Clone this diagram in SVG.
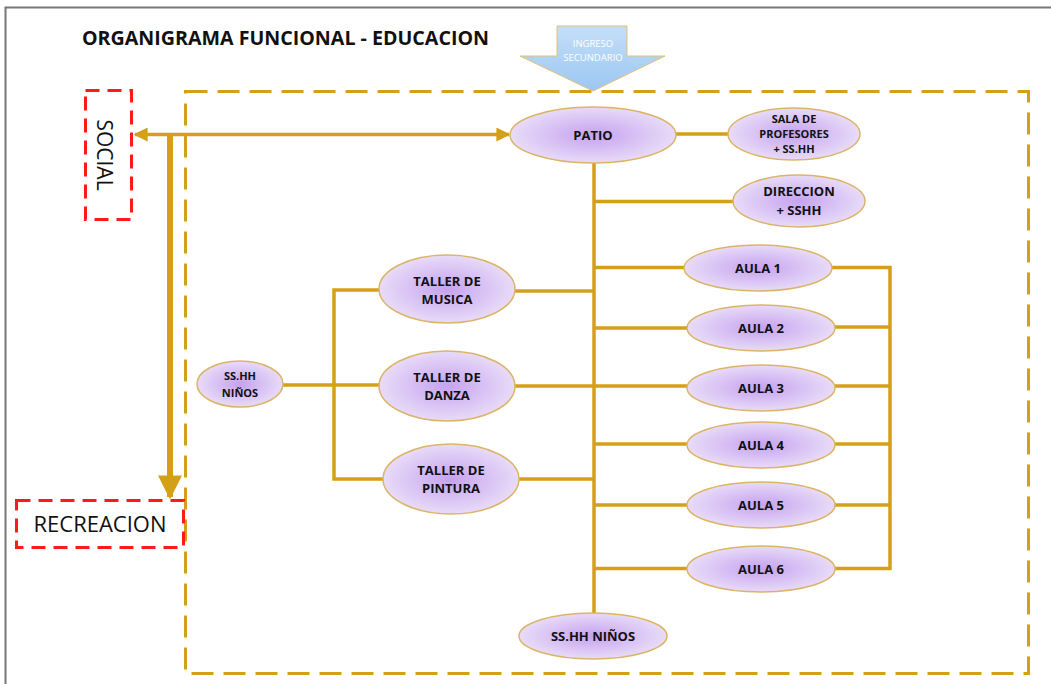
<svg xmlns="http://www.w3.org/2000/svg" width="1051" height="684" viewBox="0 0 1051 684">
<defs>
<radialGradient id="ng" cx="50%" cy="50%" r="55%">
<stop offset="0" stop-color="#c5a2ef"/>
<stop offset="1" stop-color="#ece1f9"/>
</radialGradient>
<linearGradient id="ag" x1="0" y1="0" x2="0" y2="1">
<stop offset="0" stop-color="#c4def8"/>
<stop offset="1" stop-color="#9cc7f2"/>
</linearGradient>
<marker id="ah" viewBox="0 0 10 10" refX="9" refY="5" markerWidth="4" markerHeight="4" orient="auto-start-reverse" markerUnits="strokeWidth">
<path d="M0,0 L10,5 L0,10 Z" fill="#d4a017"/>
</marker>
<marker id="ahb" viewBox="0 0 10 10" refX="9" refY="5" markerWidth="4" markerHeight="4" orient="auto" markerUnits="strokeWidth">
<path d="M0,0 L10,5 L0,10 Z" fill="#d4a017"/>
</marker>
</defs>
<style>
.n{fill:url(#ng);stroke:#dcb468;stroke-width:1.5}
.t{font-family:"Open Sans","Liberation Sans",sans-serif;font-weight:bold;fill:#111;text-anchor:middle}
.c{stroke:#d4a017;stroke-width:3.5;fill:none}
.red{fill:none;stroke:#ff1a1a;stroke-width:3;stroke-dasharray:14 8}
.gold{fill:none;stroke:#d4a017;stroke-width:3;stroke-dasharray:22 10}
</style>
<rect width="1051" height="684" fill="#fff"/>
<path d="M5.5,684 V7.5 H1051" fill="none" stroke="#777" stroke-width="2"/>
<text x="82" y="45" font-family="Open Sans,Liberation Sans,sans-serif" font-weight="bold" font-size="19.6" textLength="407" lengthAdjust="spacingAndGlyphs" fill="#111">ORGANIGRAMA FUNCIONAL - EDUCACION</text>
<rect class="gold" x="185.5" y="91.5" width="843" height="582"/>
<g id="ingreso">
<path d="M557,26 H627 V56 H665 L593,91 L520,56 H557 Z" fill="url(#ag)" stroke="#e6c070" stroke-width="1"/>
<text x="593" y="47" font-family="Open Sans,Liberation Sans,sans-serif" font-size="9.5" fill="#fff" text-anchor="middle">INGRESO</text>
<text x="593" y="61" font-family="Open Sans,Liberation Sans,sans-serif" font-size="9.5" fill="#fff" text-anchor="middle">SECUNDARIO</text>
</g>
<g id="social">
<rect class="red" x="85.5" y="90.5" width="46" height="129"/>
<text transform="translate(97,155) rotate(90)" font-family="Open Sans,Liberation Sans,sans-serif" font-size="21" fill="#111" text-anchor="middle">SOCIAL</text>
</g>
<g id="recreacion">
<rect class="red" x="16.5" y="500.5" width="167" height="47"/>
<text x="100" y="532" font-family="Open Sans,Liberation Sans,sans-serif" font-size="21" textLength="133" lengthAdjust="spacingAndGlyphs" fill="#111" text-anchor="middle">RECREACION</text>
</g>
<g id="connectors">
<line x1="135" y1="134.5" x2="509" y2="134.5" stroke="#d4a017" stroke-width="3.5" marker-start="url(#ah)" marker-end="url(#ah)"/>
<line x1="170" y1="136" x2="170" y2="497" stroke="#d4a017" stroke-width="6" marker-end="url(#ahb)"/>
<line class="c" x1="676" y1="134" x2="729" y2="134"/>
<line class="c" x1="594" y1="163" x2="594" y2="613"/>
<line class="c" x1="594" y1="201.5" x2="734" y2="201.5"/>
<line class="c" x1="594" y1="267.5" x2="685" y2="267.5"/>
<line class="c" x1="594" y1="328" x2="688" y2="328"/>
<line class="c" x1="594" y1="386" x2="688" y2="386"/>
<line class="c" x1="594" y1="444" x2="688" y2="444"/>
<line class="c" x1="594" y1="505" x2="688" y2="505"/>
<line class="c" x1="594" y1="568.5" x2="688" y2="568.5"/>
<path class="c" d="M832,267.5 H890 V568.5 H835"/>
<line class="c" x1="835" y1="327" x2="890" y2="327"/>
<line class="c" x1="835" y1="386" x2="890" y2="386"/>
<line class="c" x1="835" y1="444" x2="890" y2="444"/>
<line class="c" x1="835" y1="505" x2="890" y2="505"/>
<line class="c" x1="515" y1="291" x2="594" y2="291"/>
<line class="c" x1="515" y1="386" x2="594" y2="386"/>
<line class="c" x1="519" y1="479" x2="594" y2="479"/>
<path class="c" d="M381,290 H334 V479 H384"/>
<line class="c" x1="283" y1="385" x2="380" y2="385"/>
</g>
<g id="patio"><ellipse class="n" cx="593" cy="135" rx="83" ry="28"/><text class="t" x="593" y="140" font-size="13">PATIO</text></g>
<g id="sala"><ellipse class="n" cx="794" cy="134" rx="66" ry="26"/><text class="t" x="794" y="123" font-size="11">SALA DE</text><text class="t" x="794" y="138" font-size="11">PROFESORES</text><text class="t" x="794" y="153" font-size="11">+ SS.HH</text></g>
<g id="direccion"><ellipse class="n" cx="799" cy="201" rx="66" ry="26"/><text class="t" x="799" y="196" font-size="13">DIRECCION</text><text class="t" x="799" y="215" font-size="13">+ SSHH</text></g>
<g id="aula1"><ellipse class="n" cx="758" cy="268" rx="74" ry="23"/><text class="t" x="758" y="273" font-size="13">AULA 1</text></g>
<g id="aula2"><ellipse class="n" cx="761" cy="328" rx="74" ry="23"/><text class="t" x="761" y="333" font-size="13">AULA 2</text></g>
<g id="aula3"><ellipse class="n" cx="761" cy="388" rx="74" ry="23"/><text class="t" x="761" y="393" font-size="13">AULA 3</text></g>
<g id="aula4"><ellipse class="n" cx="761" cy="445" rx="74" ry="23"/><text class="t" x="761" y="450" font-size="13">AULA 4</text></g>
<g id="aula5"><ellipse class="n" cx="761" cy="505" rx="74" ry="23"/><text class="t" x="761" y="510" font-size="13">AULA 5</text></g>
<g id="aula6"><ellipse class="n" cx="761" cy="569" rx="74" ry="23"/><text class="t" x="761" y="574" font-size="13">AULA 6</text></g>
<g id="sshh-bottom"><ellipse class="n" cx="593" cy="636" rx="74" ry="23"/><text class="t" x="593" y="641" font-size="13">SS.HH NIÑOS</text></g>
<g id="musica"><ellipse class="n" cx="447" cy="289" rx="68" ry="34"/><text class="t" x="447" y="286" font-size="13">TALLER DE</text><text class="t" x="447" y="304" font-size="13">MUSICA</text></g>
<g id="danza"><ellipse class="n" cx="447" cy="386" rx="68" ry="35"/><text class="t" x="447" y="382" font-size="13">TALLER DE</text><text class="t" x="447" y="400" font-size="13">DANZA</text></g>
<g id="pintura"><ellipse class="n" cx="451" cy="479" rx="68" ry="35"/><text class="t" x="451" y="475" font-size="13">TALLER DE</text><text class="t" x="451" y="493" font-size="13">PINTURA</text></g>
<g id="sshh-left"><ellipse class="n" cx="240" cy="384" rx="43" ry="23"/><text class="t" x="240" y="380" font-size="11">SS.HH</text><text class="t" x="240" y="397" font-size="11">NIÑOS</text></g>
</svg>
